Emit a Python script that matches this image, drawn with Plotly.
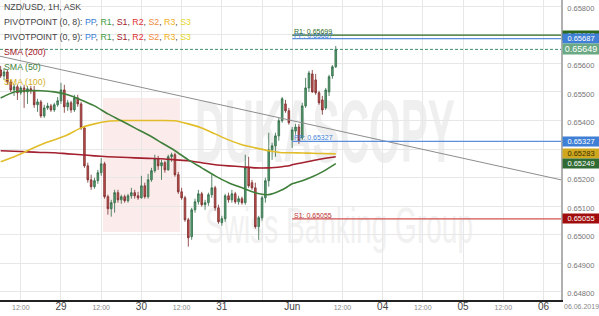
import base64
import pandas as pd
import plotly.graph_objects as go

# ---------------- data ----------------
opens = [0.65577, 0.65556, 0.65570, 0.65535, 0.65507, 0.65518, 0.65497, 0.65514, 0.65500, 0.65511,
         0.65504, 0.65455, 0.65465, 0.65416, 0.65444, 0.65451, 0.65437, 0.65455, 0.65469, 0.65507,
         0.65448, 0.65462, 0.65437, 0.65479, 0.65458, 0.65374, 0.65241, 0.65192, 0.65168, 0.65189,
         0.65217, 0.65248, 0.65133, 0.65091, 0.65112, 0.65147, 0.65122, 0.65133, 0.65119, 0.65136,
         0.65147, 0.65136, 0.65129, 0.65171, 0.65133, 0.65192, 0.65224, 0.65266, 0.65241, 0.65252,
         0.65227, 0.65273, 0.65280, 0.65210, 0.65150, 0.65129, 0.65052, 0.64993, 0.65087, 0.65115,
         0.65143, 0.65105, 0.65112, 0.65140, 0.65164, 0.65094, 0.65042, 0.65056, 0.65136, 0.65122,
         0.65143, 0.65115, 0.65126, 0.65112, 0.65234, 0.65182, 0.65164, 0.65028, 0.65059, 0.65129,
         0.65189, 0.65297, 0.65311, 0.65346, 0.65399, 0.65458, 0.65434,
         0.65332, 0.65363, 0.65377, 0.65339, 0.65451, 0.65514, 0.65563, 0.65542, 0.65497, 0.65472,
         0.65444, 0.65500, 0.65556, 0.65588]
highs = [0.65591, 0.65584, 0.65577, 0.65542, 0.65528, 0.65525, 0.65521, 0.65525, 0.65521, 0.65521,
         0.65521, 0.65476, 0.65472, 0.65455, 0.65462, 0.65458, 0.65462, 0.65482, 0.65532, 0.65525,
         0.65472, 0.65469, 0.65490, 0.65490, 0.65465, 0.65381, 0.65252, 0.65210, 0.65199, 0.65227,
         0.65269, 0.65255, 0.65140, 0.65122, 0.65157, 0.65157, 0.65140, 0.65140, 0.65143, 0.65164,
         0.65157, 0.65150, 0.65206, 0.65182, 0.65213, 0.65234, 0.65280, 0.65276, 0.65262, 0.65259,
         0.65280, 0.65287, 0.65287, 0.65220, 0.65164, 0.65136, 0.65059, 0.65094, 0.65126, 0.65157,
         0.65150, 0.65122, 0.65147, 0.65210, 0.65171, 0.65105, 0.65066, 0.65143, 0.65147, 0.65157,
         0.65150, 0.65136, 0.65133, 0.65280, 0.65273, 0.65192, 0.65182, 0.65066, 0.65136, 0.65199,
         0.65357, 0.65322, 0.65357, 0.65409, 0.65482, 0.65472, 0.65444,
         0.65377, 0.65388, 0.65388, 0.65462, 0.65549, 0.65574, 0.65577, 0.65563, 0.65504, 0.65486,
         0.65514, 0.65560, 0.65594, 0.65661]
lows = [0.65549, 0.65542, 0.65525, 0.65500, 0.65486, 0.65472, 0.65490, 0.65444, 0.65458, 0.65493,
        0.65444, 0.65430, 0.65409, 0.65409, 0.65437, 0.65430, 0.65430, 0.65448, 0.65458, 0.65427,
        0.65434, 0.65427, 0.65430, 0.65448, 0.65367, 0.65234, 0.65182, 0.65157, 0.65161, 0.65178,
        0.65206, 0.65126, 0.65070, 0.65063, 0.65077, 0.65112, 0.65108, 0.65112, 0.65112, 0.65126,
        0.65126, 0.65122, 0.65126, 0.65126, 0.65126, 0.65185, 0.65217, 0.65227, 0.65192, 0.65217,
        0.65224, 0.65255, 0.65203, 0.65143, 0.65122, 0.65045, 0.64958, 0.64982, 0.65077, 0.65105,
        0.65098, 0.65087, 0.65101, 0.65129, 0.65084, 0.65038, 0.65031, 0.65045, 0.65112, 0.65112,
        0.65108, 0.65105, 0.65105, 0.65105, 0.65164, 0.65157, 0.65021, 0.64982, 0.65049, 0.65112,
        0.65168, 0.65262, 0.65273, 0.65329, 0.65392, 0.65427, 0.65385,
        0.65304, 0.65350, 0.65318, 0.65332, 0.65444, 0.65500, 0.65497, 0.65490, 0.65455, 0.65420,
        0.65437, 0.65486, 0.65546, 0.65584]
closes = [0.65556, 0.65570, 0.65535, 0.65507, 0.65518, 0.65497, 0.65514, 0.65500, 0.65511, 0.65504,
          0.65455, 0.65465, 0.65416, 0.65444, 0.65451, 0.65437, 0.65455, 0.65469, 0.65507, 0.65448,
          0.65462, 0.65437, 0.65479, 0.65458, 0.65374, 0.65241, 0.65192, 0.65168, 0.65189, 0.65217,
          0.65248, 0.65133, 0.65091, 0.65112, 0.65147, 0.65122, 0.65133, 0.65119, 0.65136, 0.65147,
          0.65136, 0.65129, 0.65171, 0.65133, 0.65192, 0.65224, 0.65266, 0.65241, 0.65252, 0.65227,
          0.65273, 0.65280, 0.65210, 0.65150, 0.65129, 0.65052, 0.64989, 0.65087, 0.65115, 0.65143,
          0.65105, 0.65112, 0.65140, 0.65164, 0.65094, 0.65045, 0.65056, 0.65136, 0.65122, 0.65143,
          0.65115, 0.65126, 0.65112, 0.65234, 0.65171, 0.65164, 0.65028, 0.65059, 0.65129, 0.65189,
          0.65297, 0.65311, 0.65346, 0.65399, 0.65476, 0.65434, 0.65392,
          0.65367, 0.65377, 0.65329, 0.65451, 0.65514, 0.65566, 0.65500, 0.65497, 0.65462, 0.65437,
          0.65507, 0.65553, 0.65588, 0.65649]

bar_times = (list(pd.date_range("2019-05-28 06:00", "2019-05-31 20:00", freq="h")) +
             list(pd.date_range("2019-06-02 21:00", "2019-06-03 10:00", freq="h")))

sma_idx = list(range(0, 85, 4)) + [86, 87, 90, 93, 96, 100]
sma50 = [0.65479, 0.65500, 0.65504, 0.65504, 0.65500, 0.65490, 0.65472, 0.65451, 0.65423, 0.65399,
         0.65374, 0.65350, 0.65322, 0.65294, 0.65262, 0.65234, 0.65206, 0.65182, 0.65164, 0.65147,
         0.65140, 0.65157, 0.65171, 0.65178, 0.65189, 0.65203, 0.65220, 0.65249]
sma100 = [0.65255, 0.65273, 0.65294, 0.65315, 0.65332, 0.65350, 0.65374, 0.65388, 0.65397, 0.65400,
          0.65400, 0.65400, 0.65400, 0.65399, 0.65388, 0.65374, 0.65353, 0.65332, 0.65315, 0.65304,
          0.65294, 0.65287, 0.65287, 0.65287, 0.65286, 0.65285, 0.65284, 0.65283]
sma200 = [0.65294, 0.65292, 0.65290, 0.65288, 0.65287, 0.65283, 0.65280, 0.65276, 0.65273, 0.65271,
          0.65269, 0.65267, 0.65266, 0.65262, 0.65259, 0.65252, 0.65245, 0.65241, 0.65238, 0.65234,
          0.65234, 0.65238, 0.65241, 0.65245, 0.65252, 0.65259, 0.65266, 0.65273]

view_start = "2019-05-28 05:48"
view_end = "2019-06-06 05:13"
trend_x = [view_start, view_end]
trend_y = [0.65625, 0.65192]

pivot_start = "2019-06-02 21:00"
pivot_names = ["PP", "R1", "PP", "S1"]
pivot_values = [0.65687, 0.65699, 0.65327, 0.65055]

tick_vals = ["2019-05-28 12:00", "2019-05-29 00:00", "2019-05-29 12:00", "2019-05-30 00:00",
             "2019-05-30 12:00", "2019-05-31 00:00", "2019-05-31 12:00", "2019-06-02 21:00",
             "2019-06-03 12:00", "2019-06-04 00:00", "2019-06-04 12:00", "2019-06-05 00:00",
             "2019-06-05 12:00", "2019-06-06 00:00"]
tick_labels = ["12:00", "29", "12:00", "30", "12:00", "31", "", "Jun",
               "12:00", "04", "12:00", "05", "12:00", "06"]

# ---------------- figure ----------------
FONT = "Liberation Sans, Arial, sans-serif"
fig = go.Figure()

fig.add_trace(go.Candlestick(
    x=bar_times, open=opens, high=highs, low=lows, close=closes,
    increasing=dict(line=dict(color="#2f6a45", width=0.8), fillcolor="#5a9f72"),
    decreasing=dict(line=dict(color="#7a2b2b", width=0.8), fillcolor="#c2514e"),
    whiskerwidth=0, showlegend=False, hoverinfo="skip"))

sma_x = [bar_times[i] for i in sma_idx]
for vals, col in [(sma200, "#a3202e"), (sma100, "#e2bd2a"), (sma50, "#3f7f3a")]:
    fig.add_trace(go.Scatter(x=sma_x, y=vals, mode="lines",
                             line=dict(color=col, width=1.6, shape="spline", smoothing=0.6),
                             showlegend=False, hoverinfo="skip"))

fig.add_trace(go.Scatter(x=trend_x, y=trend_y, mode="lines",
                         line=dict(color="#8d8d8d", width=1), showlegend=False, hoverinfo="skip"))

fig.add_trace(go.Scatter(x=[view_start, view_end], y=[closes[-1], closes[-1]], mode="lines",
                         line=dict(color="#3f8f6a", width=1, dash="3px,2px"),
                         showlegend=False, hoverinfo="skip"))

pivot_line_cols = ["#5b8fdc", "#2f6b22", "#5b8fdc", "#d25252"]
pivot_text_cols = ["#3f7fd6", "#2f6b22", "#3f7fd6", "#c03434"]
for v, c in zip(pivot_values, pivot_line_cols):
    fig.add_trace(go.Scatter(x=[pivot_start, view_end], y=[v, v], mode="lines",
                             line=dict(color=c, width=1.2), showlegend=False, hoverinfo="skip"))

ann = []
# pivot labels
for name, v, c in zip(pivot_names, pivot_values, pivot_text_cols):
    ann.append(dict(x=pivot_start, y=v, xref="x", yref="y", xanchor="left", yanchor="bottom",
                    text=f"{name}: {v:.5f}", showarrow=False, yshift=-2,
                    font=dict(family=FONT, size=7, color=c)))

# legend text
def piv_line(p):
    items = [("PP", "#3a7fd5"), ("R1", "#3e9b3e"), ("S1", "#a0162c"), ("R2", "#e03030"),
             ("S2", "#f08a3c"), ("R3", "#f0b020"), ("S3", "#e8d52a")]
    return f"PIVOTPOINT ({p}): " + ", ".join(
        f'<span style="color:{c}">{n}</span>' for n, c in items)
legend_rows = [("NZD/USD, 1H, ASK", "#444", 7), (piv_line("0, 8"), "#444", 22),
               (piv_line("0, 9"), "#444", 37), ("SMA (200)", "#a3202e", 52),
               ("SMA (50)", "#3f7f3a", 67), ("SMA (100)", "#d4af1e", 82)]
for txt, col, ypx in legend_rows:
    ann.append(dict(x=0.004, y=1 - ypx / 300, xref="paper", yref="paper", xanchor="left",
                    yanchor="middle", text=txt, showarrow=False,
                    font=dict(family=FONT, size=8.8, color=col)))

# right-hand price boxes
boxes = [(0.65699, "#2d6a1f", "white", 7.5), (0.65687, "#3f7fd6", "white", 7.5),
         (closes[-1], "#6aa984", "white", 9), (0.65327, "#3f7fd6", "white", 7.5),
         (sma100[-1], "#cfa820", "#3a3000", 7.5), (sma50[-1], "#2f6b33", "white", 7.5),
         (0.65055, "#a10d0d", "white", 7.5)]
for v, bg, fc, fs in boxes:
    ann.append(dict(x=1, y=v, xref="paper", yref="y", xanchor="left", yanchor="middle",
                    xshift=1, text=f"{v:.5f}", showarrow=False, bgcolor=bg,
                    width=35, height=8 if fs < 8 else 9, borderpad=0.5, align="center",
                    font=dict(family=FONT, size=fs, color=fc)))

ann.append(dict(x=1, y=0, xref="paper", yref="paper", xanchor="left", yanchor="top",
                xshift=1, yshift=-1, text="06.06.2019", showarrow=False,
                font=dict(family=FONT, size=7, color="#888")))

# watermark image (drawn below traces)
svg = ('<svg xmlns="http://www.w3.org/2000/svg" width="400" height="170" viewBox="0 0 400 170">'
       '<rect x="3" y="8" width="77" height="134" fill="#fcebeb"/>'
       '<text x="95" y="72" font-family="Liberation Sans, Arial" font-weight="bold" font-size="89" '
       'fill="#efefef" textLength="260" lengthAdjust="spacingAndGlyphs">DUKASCOPY</text>'
       '<text x="105" y="153" font-family="Liberation Sans, Arial" font-size="50" '
       'fill="#f1f1f1" textLength="268" lengthAdjust="spacingAndGlyphs">Swiss Banking Group</text>'
       '</svg>')
img_src = "data:image/svg+xml;base64," + base64.b64encode(svg.encode()).decode()

tick_text = []
for lab in tick_labels:
    if lab == "12:00" or lab == "":
        tick_text.append(lab)
    else:
        tick_text.append(f'<span style="font-size:10px;color:#444">{lab}</span>')

fig.update_layout(
    width=599, height=316, margin=dict(l=0, r=38, t=0, b=16),
    paper_bgcolor="white", plot_bgcolor="white", showlegend=False,
    annotations=ann,
    images=[dict(source=img_src, xref="paper", yref="paper", x=100 / 561, y=1 - 90 / 300,
                 sizex=400 / 561, sizey=170 / 300, xanchor="left", yanchor="top",
                 sizing="stretch", layer="below")],
    xaxis=dict(type="date", range=[view_start, view_end],
               rangebreaks=[dict(values=["2019-05-31 21:00"], dvalue=48 * 3600 * 1000)],
               rangeslider=dict(visible=False),
               tickmode="array", tickvals=tick_vals, ticktext=tick_text,
               showgrid=True, gridcolor="#e7e7e7", gridwidth=1,
               showline=True, linecolor="#222", linewidth=1.5, ticks="",
               tickfont=dict(family=FONT, size=7, color="#888"), zeroline=False),
    yaxis=dict(side="right", range=[0.64771, 0.65822], tick0=0.648, dtick=0.001,
               tickformat=".5f", showgrid=True, gridcolor="#e7e7e7", gridwidth=1,
               showline=True, linecolor="#b0b0b0", linewidth=1.5, ticks="",
               ticklabelstandoff=3, ticklabelshift=2,
               tickfont=dict(family=FONT, size=7.5, color="#777"), zeroline=False),
)

fig.write_html("out.html")
